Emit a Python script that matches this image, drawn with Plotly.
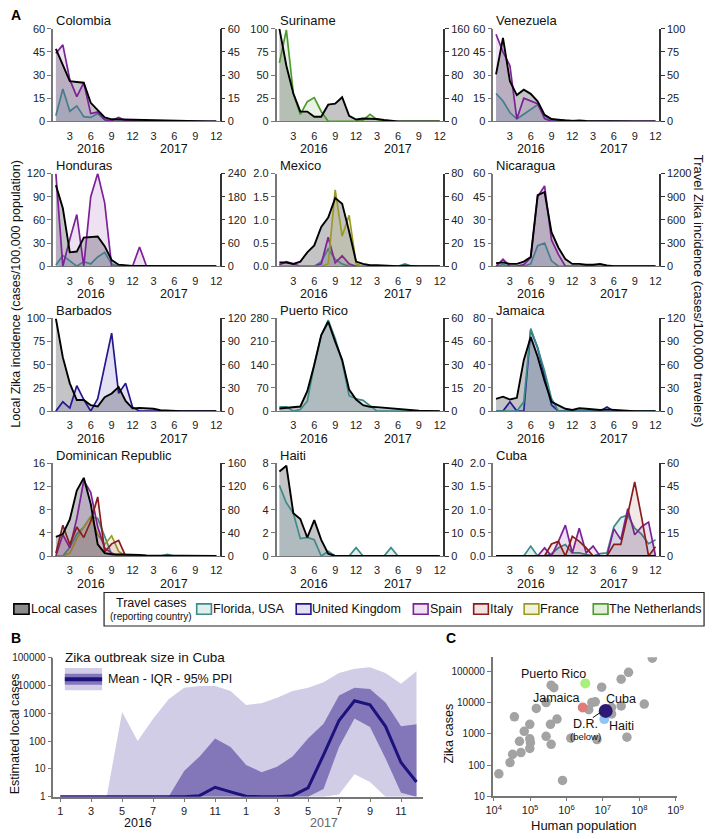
import plotly.graph_objects as go

W, H = 714, 839
FONT = "Liberation Sans, Arial, sans-serif"

# ---------------- Panel A data (monthly, Jan 2016 .. Dec 2017) ----------------
MONTH_INDEX = list(range(24))
A_TICKVALS = [2, 5, 8, 11, 14, 17, 20, 23]
A_TICKTEXT = ["3", "6", "9", "12", "3", "6", "9", "12"]

COLOMBIA_LOCAL = [47, 37, 26, 25.5, 25, 12, 7, 2.5, 1.3, 1.2, 0.8, 0.6, 0.5, 0.4, 0.3, 0.3, 0.2, 0.2, 0.1, 0.1, 0.1, 0.1, 0, 0]
COLOMBIA_SPAIN = [44, 49.5, 27, 16, 25, 5, 6, 1, 0.5, 2.5, 0.5, 0.3, 0, 0, 0, 0, 0, 0, 0, 0, 0, 0, 0, 0]
COLOMBIA_FLORIDA = [3.6, 21, 6.5, 10, 3, 2.5, 5, 1, 0, 0, 0, 0, 0, 0, 0, 0, 0, 0, 0, 0, 0, 0, 0, 0]

SURINAME_LOCAL = [100, 60, 30, 10.5, 10.5, 5, 5, 18, 19, 26, 6, 2, 3, 3, 2.5, 1.5, 0.5, 0, 0, 0, 0, 0, 0, 0]
SURINAME_NETHERLANDS = [101, 158, 48, 12, 34, 41, 17, 0, 0, 0, 0, 0, 2, 12, 3, 1, 0, 0, 0, 0, 0, 0, 0, 0]

VENEZUELA_LOCAL = [30.4, 54, 26, 17, 20.5, 17.8, 13, 4.2, 1.5, 0.8, 0.5, 0.3, 0.5, 0.2, 0.1, 0, 0, 0, 0, 0, 0, 0, 0, 0]
VENEZUELA_SPAIN = [94, 75, 60, 2.5, 25, 22, 19, 3, 0, 0, 0, 0, 0, 0, 0, 0, 0, 0, 0, 0, 0, 0, 0, 0]
VENEZUELA_FLORIDA = [30, 22, 9.5, 2.5, 7.7, 13, 18, 6, 1, 1.5, 1, 0.3, 0, 0, 0, 0, 0, 0, 0, 0, 0, 0, 0, 0]

HONDURAS_LOCAL = [105, 75, 18, 19, 37, 38, 38.5, 26, 8, 2, 1, 0.5, 0.3, 0.2, 0.1, 0, 0, 0, 0, 0, 0, 0, 0, 0]
HONDURAS_SPAIN = [240, 0, 70, 134, 0, 180, 240, 164, 0, 0, 0, 0, 50, 0, 0, 0, 0, 0, 0, 0, 0, 0, 0, 0]
HONDURAS_FLORIDA = [3, 28, 14, 0, 12, 6, 24, 36, 6, 0, 0, 0, 0, 0, 0, 0, 0, 0, 0, 0, 0, 0, 0, 0]

MEXICO_LOCAL = [0.08, 0.08, 0.05, 0.1, 0.3, 0.45, 0.85, 1.05, 1.47, 1.35, 0.75, 0.1, 0.05, 0.02, 0.02, 0.01, 0, 0, 0.01, 0, 0, 0, 0, 0]
MEXICO_FRANCE = [0, 0, 0, 0, 0, 0, 0, 2, 66, 26, 44, 2, 0, 0, 0, 0, 0, 0, 0, 0, 0, 0, 0, 0]
MEXICO_SPAIN = [1, 4, 2, 0, 0, 0, 2, 25, 3, 9, 2, 0, 0, 0, 0, 0, 0, 0, 0, 0, 0, 0, 0, 0]
MEXICO_FLORIDA = [0, 0, 0, 0, 0, 0, 4, 15, 6, 2, 0, 0, 0, 0, 0, 0, 0, 0, 2, 0, 0, 0, 0, 0]

NICARAGUA_LOCAL = [2, 2.5, 1.5, 1.5, 3, 6, 46, 48, 22, 12, 4.6, 1.5, 1.5, 1, 1, 1.5, 0.5, 0, 0, 0, 0, 0, 0, 0]
NICARAGUA_SPAIN = [0, 90, 0, 0, 20, 110, 900, 1040, 340, 150, 0, 0, 0, 0, 0, 0, 0, 0, 0, 0, 0, 0, 0, 0]
NICARAGUA_FLORIDA = [0, 20, 0, 0, 0, 30, 266, 300, 70, 0, 0, 0, 0, 0, 0, 0, 0, 0, 0, 0, 0, 0, 0, 0]

BARBADOS_LOCAL = [100, 58, 30, 12, 12, 6.4, 5, 15, 19, 26, 11, 3, 3.5, 3, 2.5, 1, 0.5, 0, 0, 0, 0, 0, 0, 0]
BARBADOS_UK = [0, 12, 4, 33, 15, 0, 16, 60, 101, 23, 36, 5, 0, 0, 0, 0, 0, 0, 0, 0, 0, 0, 0, 0]

PUERTO_RICO_LOCAL = [8, 10, 10, 14, 60, 140, 230, 270, 210, 155, 65, 35, 18, 13, 12, 10, 8, 6, 4, 2, 1, 0.5, 0, 0]
PUERTO_RICO_FLORIDA = [2.8, 2.8, 0, 1, 6.4, 30, 49, 59, 47, 32, 10, 8, 7, 3.5, 0, 0, 0, 0, 0, 0, 0, 0, 0, 0]

JAMAICA_LOCAL = [10.5, 12.5, 10, 11.5, 44, 64, 47, 26, 8, 5, 2, 1, 2.5, 2, 1.5, 1, 1.5, 1, 0.5, 0, 0, 0, 0, 0]
JAMAICA_FLORIDA = [0, 0, 0, 0, 12, 107, 82, 52, 16, 0, 0, 0, 0, 0, 0, 0, 0, 0, 0, 0, 0, 0, 0, 0]
JAMAICA_UK = [0, 0, 12, 0, 0, 105, 82, 45, 8, 0, 0, 0, 0, 0, 0, 0, 5.5, 0, 0, 0, 0, 0, 0, 0]

DOMINICAN_LOCAL = [3.3, 3.8, 6.3, 11.3, 13.5, 9, 2, 0.5, 0.3, 0.3, 0.2, 0.2, 0.2, 0.1, 0.1, 0.1, 0.1, 0.1, 0.1, 0, 0, 0, 0, 0]
DOMINICAN_SPAIN = [0, 37, 14, 65, 130, 110, 50, 14, 5, 0, 0, 0, 0, 0, 0, 0, 0, 0, 0, 0, 0, 0, 0, 0]
DOMINICAN_ITALY = [5, 53, 20, 50, 32, 60, 102, 7, 21, 27, 0, 0, 0, 0, 0, 0, 0, 0, 0, 0, 0, 0, 0, 0]
DOMINICAN_FLORIDA = [0, 0, 15, 38, 50, 68, 65, 35, 3, 0, 0, 0, 0, 0, 0, 0, 3, 0, 0, 0, 0, 0, 0, 0]
DOMINICAN_FRANCE = [0, 0, 5, 30, 50, 68, 37, 20, 35, 8, 0, 0, 0, 0, 0, 0, 0, 0, 0, 0, 0, 0, 0, 0]

HAITI_LOCAL = [7.3, 7.8, 3.7, 3.2, 1.6, 3.1, 1.4, 0.2, 0, 0, 0, 0, 0, 0, 0, 0, 0, 0, 0, 0, 0, 0, 0, 0]
HAITI_FLORIDA = [30.5, 23, 18.5, 7.5, 8, 7, 0, 2, 0, 0, 0, 3.6, 0, 0, 0, 0, 3.6, 0, 0, 0, 0, 0, 0, 0]

CUBA_LOCAL = [0] * 24
CUBA_FLORIDA = [0, 0, 0, 0, 0, 6.4, 0, 0, 1.5, 5.3, 7.4, 2, 2, 1, 0, 1.5, 2, 19, 25, 26.5, 18, 14, 8, 10.6]
CUBA_SPAIN = [0, 0, 0, 0, 0, 0, 0, 5.3, 0, 9.5, 20, 2, 18, 2, 6.4, 0, 0, 17.6, 10.6, 30.7, 13.8, 19, 22, 0]
CUBA_ITALY = [0, 0, 0, 0, 0, 0, 0, 0, 7.8, 9.5, 0, 12.7, 9.5, 5.3, 0, 0, 0, 7.5, 7.5, 27, 48, 25, 0, 6]

# (title, local series, left ticks, right ticks, travel series)
PANELS = [
    ("Colombia", COLOMBIA_LOCAL, [0, 15, 30, 45, 60], [0, 15, 30, 45, 60],
     [("Florida, USA", COLOMBIA_FLORIDA), ("Spain", COLOMBIA_SPAIN)]),
    ("Suriname", SURINAME_LOCAL, [0, 25, 50, 75, 100], [0, 40, 80, 120, 160],
     [("The Netherlands", SURINAME_NETHERLANDS)]),
    ("Venezuela", VENEZUELA_LOCAL, [0, 15, 30, 45, 60], [0, 25, 50, 75, 100],
     [("Florida, USA", VENEZUELA_FLORIDA), ("Spain", VENEZUELA_SPAIN)]),
    ("Honduras", HONDURAS_LOCAL, [0, 30, 60, 90, 120], [0, 60, 120, 180, 240],
     [("Florida, USA", HONDURAS_FLORIDA), ("Spain", HONDURAS_SPAIN)]),
    ("Mexico", MEXICO_LOCAL, [0, 0.5, 1.0, 1.5, 2.0], [0, 20, 40, 60, 80],
     [("Florida, USA", MEXICO_FLORIDA), ("Spain", MEXICO_SPAIN), ("France", MEXICO_FRANCE)]),
    ("Nicaragua", NICARAGUA_LOCAL, [0, 15, 30, 45, 60], [0, 300, 600, 900, 1200],
     [("Florida, USA", NICARAGUA_FLORIDA), ("Spain", NICARAGUA_SPAIN)]),
    ("Barbados", BARBADOS_LOCAL, [0, 25, 50, 75, 100], [0, 30, 60, 90, 120],
     [("United Kingdom", BARBADOS_UK)]),
    ("Puerto Rico", PUERTO_RICO_LOCAL, [0, 70, 140, 210, 280], [0, 15, 30, 45, 60],
     [("Florida, USA", PUERTO_RICO_FLORIDA)]),
    ("Jamaica", JAMAICA_LOCAL, [0, 20, 40, 60, 80], [0, 30, 60, 90, 120],
     [("United Kingdom", JAMAICA_UK), ("Florida, USA", JAMAICA_FLORIDA)]),
    ("Dominican Republic", DOMINICAN_LOCAL, [0, 4, 8, 12, 16], [0, 40, 80, 120, 160],
     [("Florida, USA", DOMINICAN_FLORIDA), ("France", DOMINICAN_FRANCE),
      ("Spain", DOMINICAN_SPAIN), ("Italy", DOMINICAN_ITALY)]),
    ("Haiti", HAITI_LOCAL, [0, 2, 4, 6, 8], [0, 10, 20, 30, 40],
     [("Florida, USA", HAITI_FLORIDA)]),
    ("Cuba", CUBA_LOCAL, [0, 0.5, 1.0, 1.5, 2.0], [0, 15, 30, 45, 60],
     [("Florida, USA", CUBA_FLORIDA), ("Spain", CUBA_SPAIN), ("Italy", CUBA_ITALY)]),
]

TRAVEL_COLORS = {
    "Florida, USA": ("#3d8c8a", "rgba(61,140,138,0.15)", "#e0eeed"),
    "United Kingdom": ("#231790", "rgba(35,23,144,0.13)", "#e3e1f1"),
    "Spain": ("#7d2198", "rgba(125,33,152,0.13)", "#eee1f2"),
    "Italy": ("#8a1c1c", "rgba(138,28,28,0.10)", "#f1e3e2"),
    "France": ("#9b9b22", "rgba(155,155,34,0.12)", "#f1f1dd"),
    "The Netherlands": ("#4e9a2c", "rgba(78,154,44,0.12)", "#e2efdc"),
}

# ---------------- Panel B data ----------------
B_TICKVALS = [0, 2, 4, 6, 8, 10, 12, 14, 16, 18, 20, 22]
B_TICKTEXT = ["1", "3", "5", "7", "9", "11", "1", "3", "5", "7", "9", "11"]
CUBA_MEAN = [1, 1, 1, 1, 1, 1, 1, 1, 1, 1.1, 2.2, 1.5, 1.05, 1, 1, 1.1, 2.1, 32, 550, 2800, 2000, 340, 17, 3.4]
CUBA_IQR_LOW = [1, 1, 1, 1, 1, 1, 1, 1, 1, 1, 1, 1, 1, 1, 1, 1, 1, 1.9, 62, 650, 320, 24, 1.4, 1]
CUBA_IQR_HIGH = [1, 1, 1, 1, 1, 1, 1, 1, 8.5, 28, 123, 62, 14, 7.7, 12, 28, 123, 420, 4300, 8300, 7400, 2450, 340, 400]
CUBA_PPI_LOW = [1, 1, 1, 1, 1, 1, 1, 1, 1, 1, 1, 1, 1, 1, 1, 1, 1, 1, 1.2, 6.5, 3.4, 1, 1, 1]
CUBA_PPI_HIGH = [1, 1, 1, 1, 1100, 100, 630, 3200, 8300, 9600, 9600, 6300, 2000, 2300, 3600, 6300, 8300, 13000, 28000, 40000, 45000, 28000, 11500, 32000]

# ---------------- Panel C data ----------------
OTHER_POPULATION = [13800, 28000, 33000, 56000, 51000, 37000, 69000, 98000, 98000, 102000, 98000,
                    148000, 275000, 275000, 363000, 380000, 550000, 780000, 1320000, 4100000,
                    6900000, 5000000, 6200000, 17400000, 32000000, 46000000, 138000000, 230000000,
                    51000000, 32000000, 9300000, 380000, 450000, 17400000]
OTHER_CASES = [52, 120, 220, 250, 575, 3500, 1200, 2000, 690, 520, 340,
               6500, 10000, 830, 2000, 460, 2950, 32, 720, 5900,
               650, 10000, 10500, 4300, 7800, 780, 8900, 263000,
               93000, 56000, 31000, 36000, 30000, 6900]
HIGHLIGHT_NAMES = ["Puerto Rico", "Jamaica", "D.R.", "Haiti", "Cuba"]
HIGHLIGHT_POPULATION = [3300000, 2800000, 10500000, 11000000, 12000000]
HIGHLIGHT_CASES = [41000, 6900, 4600, 2950, 5400]
HIGHLIGHT_COLORS = ["#a8f07e", "#e07c78", "#e8e25c", "#8fc6f2", "#2c1a76"]
HIGHLIGHT_SIZES = [10, 10, 7, 10, 14]


def px_x(p):
    return p / W


def px_y(p):
    return 1 - p / H


def axname(kind, n):
    return kind if n == 1 else f"{kind}{n}"


def laykey(kind, n):
    return f"{kind}axis" if n == 1 else f"{kind}axis{n}"


def fmt_ticks(vals):
    if any(abs(v - round(v)) > 1e-9 for v in vals):
        return [f"{v:.1f}" for v in vals]
    return [str(int(v)) for v in vals]


lay = dict(
    width=W, height=H, autosize=False,
    margin=dict(l=0, r=0, t=0, b=0),
    paper_bgcolor="white", plot_bgcolor="rgba(0,0,0,0)",
    font=dict(family=FONT, size=11, color="#111"),
    showlegend=False,
)
annotations = []
shapes = []
traces = []

COL_X = [(47, 217), (275, 445), (496, 665)]
ROW_Y = [(23, 117), (170, 264), (317, 411), (464, 558)]

for i, (title, local, lt, rt, travel) in enumerate(PANELS):
    r, c = divmod(i, 3)
    xl, xr = COL_X[c]
    yt, yb = ROW_Y[r]
    xn, ybn, ytn, yln = i + 1, 3 * i + 1, 3 * i + 2, 3 * i + 3
    xa, yba, yta, yla = axname("x", xn), axname("y", ybn), axname("y", ytn), axname("y", yln)

    lay[laykey("x", xn)] = dict(
        domain=[px_x(xl), px_x(xr)], range=[-0.4, 23.5], anchor=yba,
        tickvals=A_TICKVALS, ticktext=A_TICKTEXT, ticks="outside", ticklen=4,
        tickcolor="rgba(0,0,0,0)", showline=True, linecolor="#777", linewidth=1.2,
        showgrid=False, zeroline=False, tickfont=dict(size=11, color="#222"), fixedrange=True,
    )
    common = dict(domain=[px_y(yb), px_y(yt)], showgrid=False, zeroline=False, fixedrange=True)
    lay[laykey("y", ybn)] = dict(
        common, anchor=xa, range=[0, lt[-1]], tickvals=lt, ticktext=fmt_ticks(lt),
        ticks="outside", ticklen=4, tickwidth=1.2, tickcolor="#777", showline=True,
        linecolor="#777", linewidth=1.5, tickfont=dict(size=11, color="#222"),
    )
    lay[laykey("y", ytn)] = dict(
        common, anchor=xa, overlaying=yba, side="right", range=[0, rt[-1]], tickvals=rt,
        ticktext=fmt_ticks(rt), ticks="outside", ticklen=4, tickwidth=1.2, tickcolor="#333",
        showline=True, linecolor="#333", linewidth=1.5, tickfont=dict(size=11, color="#222"),
    )
    lay[laykey("y", yln)] = dict(common, anchor=xa, overlaying=yba, range=[0, lt[-1]],
                                 tickvals=[], showticklabels=False, ticks="", showline=False)

    # local fill
    traces.append(go.Scatter(x=MONTH_INDEX, y=local, xaxis=xa, yaxis=yba, mode="lines",
                             fill="tozeroy", fillcolor="rgba(100,100,108,0.38)",
                             line=dict(width=0, color="rgba(0,0,0,0)"), hoverinfo="skip"))
    # travel
    for name, vals in travel:
        lc, fc, _ = TRAVEL_COLORS[name]
        traces.append(go.Scatter(x=MONTH_INDEX, y=vals, xaxis=xa, yaxis=yta, mode="lines",
                                 fill="tozeroy", fillcolor=fc, line=dict(color=lc, width=1.7),
                                 name=name))
    # local line on top
    traces.append(go.Scatter(x=MONTH_INDEX, y=local, xaxis=xa, yaxis=yla, mode="lines",
                             line=dict(color="#000", width=1.9), name="Local cases"))

    annotations.append(dict(text=title, xref="paper", yref="paper", x=px_x(xl + 1),
                            y=px_y(yt - 8), xanchor="left", yanchor="middle",
                            showarrow=False, font=dict(size=13, color="#111")))
    for yr, xi in zip(["2016", "2017"], [5, 17]):
        annotations.append(dict(text=yr, xref=xa, yref="paper", x=xi, y=px_y(yb + 28),
                                xanchor="center", yanchor="middle", showarrow=False,
                                font=dict(size=12.5, color="#111")))

# Panel A side titles
annotations.append(dict(text="Local Zika incidence (cases/100,000 population)", xref="paper",
                        yref="paper", x=px_x(9), y=px_y(292), textangle=-90, showarrow=False,
                        xanchor="center", yanchor="middle", font=dict(size=12.5, color="#111")))
annotations.append(dict(text="Travel Zika incidence (cases/100,000 travelers)", xref="paper",
                        yref="paper", x=px_x(705), y=px_y(289), textangle=90, showarrow=False,
                        xanchor="center", yanchor="middle", font=dict(size=13, color="#111")))

# Panel letters
for letter, lx, ly in [("A", 2, 9), ("B", 2, 641), ("C", 446, 641)]:
    annotations.append(dict(text=f"<b>{letter}</b>", xref="paper", yref="paper", x=px_x(lx),
                            y=px_y(ly), xanchor="left", yanchor="middle", showarrow=False,
                            font=dict(size=14, color="#000")))

# ---------------- Legend row ----------------
def rect(x0, y0, x1, y1, fill, line, width=1.5):
    shapes.append(dict(type="rect", xref="paper", yref="paper", x0=px_x(x0), x1=px_x(x1),
                       y0=px_y(y1), y1=px_y(y0), fillcolor=fill,
                       line=dict(color=line, width=width), layer="above"))


def label(text, x, y, size=13, anchor="left", color="#111"):
    annotations.append(dict(text=text, xref="paper", yref="paper", x=px_x(x), y=px_y(y),
                            xanchor=anchor, yanchor="middle", showarrow=False,
                            font=dict(size=size, color=color)))


rect(7, 606.5, 22.5, 617, "#8c8c8c", "#000", 1.6)
label("Local cases", 22.5, 612, 12.5)
rect(99, 595, 711, 629, "rgba(0,0,0,0)", "#222", 1.2)
label("Travel cases", 147, 605.5, 12.5, "center")
label("(reporting country)", 147, 619.5, 10, "center")
LEG_ITEMS = [("Florida, USA", 193.5, 208.5), ("United Kingdom", 295, 310), ("Spain", 414.5, 429.5),
             ("Italy", 476, 491), ("France", 527.5, 542.5), ("The Netherlands", 598, 613)]
for name, x0, x1 in LEG_ITEMS:
    lc, _, sw = TRAVEL_COLORS[name]
    rect(x0, 606.5, x1, 617, sw, lc, 1.6)
    label(name, x1 - 0.5, 612, 12.5)

# ---------------- Panel B ----------------
BX, BY = 14, 39
bxa, bya = axname("x", BX), axname("y", BY)
lay[laykey("x", BX)] = dict(
    domain=[px_x(47.3), px_x(424)], range=[-0.44, 23.4], anchor=bya, tickvals=B_TICKVALS,
    ticktext=B_TICKTEXT, ticks="outside", ticklen=3, tickcolor="#777", showline=True,
    linecolor="#777", linewidth=1.5, showgrid=False, zeroline=False,
    tickfont=dict(size=11, color="#222"), fixedrange=True,
)
lay[laykey("y", BY)] = dict(
    domain=[px_y(802.3), px_y(661)], type="log", range=[0, 5], anchor=bxa,
    tickvals=[1, 10, 100, 1000, 10000, 100000],
    ticktext=["1", "10", "100", "1000", "10000", "100000"], ticks="outside", ticklen=4,
    tickcolor="#777", showline=True, linecolor="#777", linewidth=1.5, showgrid=False,
    zeroline=False, tickfont=dict(size=10, color="#222"), fixedrange=True,
)
PPI_COLOR = "#d1cde6"
IQR_COLOR = "#8477b9"
MEAN_COLOR = "#1d117c"
traces.append(go.Scatter(x=MONTH_INDEX, y=CUBA_PPI_LOW, xaxis=bxa, yaxis=bya, mode="lines",
                         line=dict(width=0), hoverinfo="skip"))
traces.append(go.Scatter(x=MONTH_INDEX, y=CUBA_PPI_HIGH, xaxis=bxa, yaxis=bya, mode="lines",
                         line=dict(width=0), fill="tonexty", fillcolor=PPI_COLOR, name="95% PPI"))
traces.append(go.Scatter(x=MONTH_INDEX, y=CUBA_IQR_LOW, xaxis=bxa, yaxis=bya, mode="lines",
                         line=dict(width=0), hoverinfo="skip"))
traces.append(go.Scatter(x=MONTH_INDEX, y=CUBA_IQR_HIGH, xaxis=bxa, yaxis=bya, mode="lines",
                         line=dict(width=0), fill="tonexty", fillcolor=IQR_COLOR, name="IQR"))
traces.append(go.Scatter(x=MONTH_INDEX, y=CUBA_MEAN, xaxis=bxa, yaxis=bya, mode="lines",
                         line=dict(color=MEAN_COLOR, width=3), name="Mean"))
for yr, xi, col in [("2016", 5, "#111"), ("2017", 17, "#666")]:
    annotations.append(dict(text=yr, xref=bxa, yref="paper", x=xi, y=px_y(829),
                            xanchor="center", yanchor="middle", showarrow=False,
                            font=dict(size=12.5, color=col)))
label("Zika outbreak size in Cuba", 57, 661, 13.5)
rect(59, 671.7, 97, 694.3, PPI_COLOR, PPI_COLOR, 0)
rect(59, 677.5, 97, 688.5, IQR_COLOR, IQR_COLOR, 0)
shapes.append(dict(type="line", xref="paper", yref="paper", x0=px_x(59), x1=px_x(97),
                   y0=px_y(683), y1=px_y(683), line=dict(color=MEAN_COLOR, width=4)))
label("Mean - IQR - 95% PPI", 101, 683, 12.5)
annotations.append(dict(text="Estimated local cases", xref="paper", yref="paper", x=px_x(9),
                        y=px_y(738), textangle=-90, showarrow=False, xanchor="center",
                        yanchor="middle", font=dict(size=12.5, color="#111")))

# ---------------- Panel C ----------------
CX, CY = 15, 40
cxa, cya = axname("x", CX), axname("y", CY)
lay[laykey("x", CX)] = dict(
    domain=[px_x(495.3), px_x(683)], type="log", range=[3.968, 9.03], anchor=cya,
    tickvals=[1e4, 1e5, 1e6, 1e7, 1e8, 1e9],
    ticktext=["10<sup>4</sup>", "10<sup>5</sup>", "10<sup>6</sup>", "10<sup>7</sup>",
              "10<sup>8</sup>", "10<sup>9</sup>"],
    ticks="outside", ticklen=3, tickcolor="#777", showline=True, linecolor="#777",
    linewidth=1.5, showgrid=False, zeroline=False, tickfont=dict(size=11, color="#222"),
    fixedrange=True,
)
lay[laykey("y", CY)] = dict(
    domain=[px_y(801.7), px_y(660.7)], type="log", range=[1, 5.45], anchor=cxa,
    tickvals=[10, 100, 1000, 10000, 100000],
    ticktext=["10", "100", "1000", "10000", "100000"], ticks="outside", ticklen=4,
    tickcolor="#777", showline=True, linecolor="#777", linewidth=1.5, showgrid=False,
    zeroline=False, tickfont=dict(size=10, color="#222"), fixedrange=True,
)
traces.append(go.Scatter(x=OTHER_POPULATION, y=OTHER_CASES, xaxis=cxa, yaxis=cya,
                         mode="markers", marker=dict(color="#a3a3a3", size=9.5, line=dict(width=0)),
                         name="Other countries"))
traces.append(go.Scatter(x=HIGHLIGHT_POPULATION, y=HIGHLIGHT_CASES, xaxis=cxa, yaxis=cya,
                         mode="markers", marker=dict(color=HIGHLIGHT_COLORS, size=HIGHLIGHT_SIZES,
                                                     line=dict(width=0), opacity=1),
                         name="Highlighted"))
annotations.append(dict(text="Zika cases", xref="paper", yref="paper", x=px_x(451),
                        y=px_y(738), textangle=-90, showarrow=False, xanchor="center",
                        yanchor="middle", font=dict(size=12.5, color="#111")))
label("Human population", 589, 831, 13, "center")
label("Puerto Rico", 557, 677.5, 12.5, "center")
label("Jamaica", 560, 702.5, 12.5, "center")
label("Cuba", 626, 703, 12.5, "center")
label("D.R.", 590, 728.5, 12.5, "center")
label("(below)", 590, 741, 9.5, "center")
label("Haiti", 627, 730.5, 12.5, "center")
shapes.append(dict(type="line", xref="paper", yref="paper", x0=px_x(597.5), x1=px_x(605.5),
                   y0=px_y(722), y1=px_y(716.5), line=dict(color="#111", width=1)))

lay["annotations"] = annotations
lay["shapes"] = shapes

fig = go.Figure(data=traces, layout=go.Layout(**lay))
fig.write_html("out.html", config={"displayModeBar": False},
               post_script="document.body.style.margin='0';document.body.style.padding='0';")
